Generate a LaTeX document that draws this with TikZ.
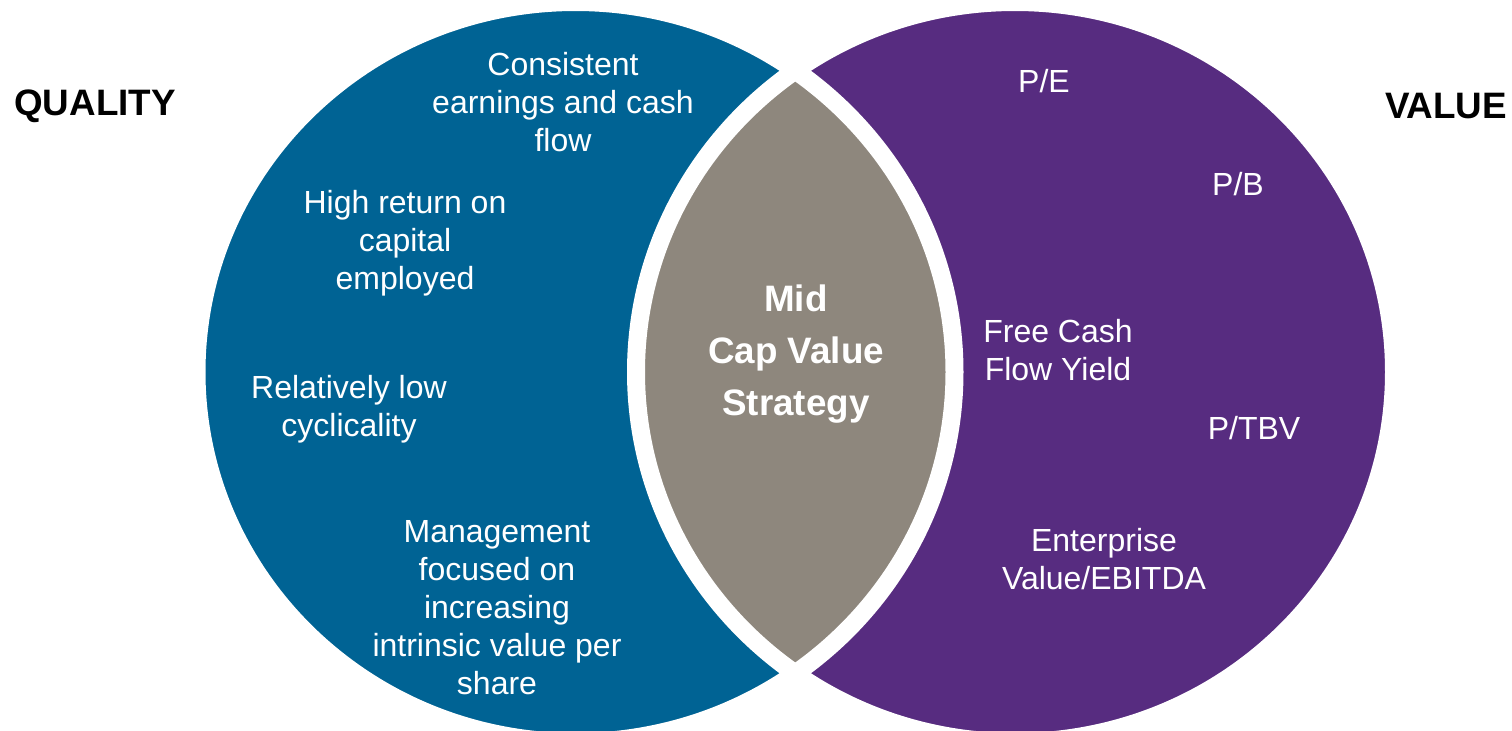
\documentclass[tikz,border=0pt]{standalone}
\usepackage{fontspec}
\setmainfont{Liberation Sans}
\usetikzlibrary{positioning}
\definecolor{qualityblue}{HTML}{006394}
\definecolor{valuepurple}{HTML}{572C80}
\definecolor{coregray}{HTML}{8E877D}
\tikzset{
  heading/.style={font=\fontsize{18.4}{21}\selectfont\bfseries,text=black,inner sep=0pt},
  trait/.style={font=\fontsize{16}{19}\selectfont,text=white,align=center,inner sep=0pt},
  core/.style={font=\fontsize{18.4}{26}\selectfont\bfseries,text=white,align=center,inner sep=0pt},
  gap/.style={draw=white,line width=9pt},
  set/.style={x radius=189.5pt,y radius=185pt},
}

\begin{document}
\begin{tikzpicture}[x=0.5pt,y=-0.5pt]
  \useasboundingbox (0,0) rectangle (1512,730);
  \coordinate (qc) at (575.5,372);
  \coordinate (vc) at (1015,372);

  \fill[qualityblue] (qc) ellipse [set];
  \fill[valuepurple] (vc) ellipse [set];
  \begin{scope}
    \clip (qc) ellipse [set];
    \fill[coregray] (vc) ellipse [set];
  \end{scope}
  \draw[gap] (qc) ellipse [set];
  \draw[gap] (vc) ellipse [set];

  \node[heading] (quality) at (95,106) {QUALITY};
  \node[heading] (value) at (1446,106) {VALUE};

  \node[trait] (earnings) at (563,102) {Consistent\\earnings and cash\\flow};
  \node[trait] (roce) at (405,243) {High return on\\capital\\employed};
  \node[trait] (cyclical) at (349,409) {Relatively low\\cyclicality};
  \node[trait] (mgmt) at (497,608) {Management\\focused on\\increasing\\intrinsic value per\\share};

  \node[trait] (pe) at (1044,81) {P/E};
  \node[trait] (pb) at (1238,184) {P/B};
  \node[trait] (fcf) at (1058,350) {Free Cash\\Flow Yield};
  \node[trait] (ptbv) at (1254,428) {P/TBV};
  \node[trait] (ev) at (1104,559) {Enterprise\\Value/EBITDA};

  \node[core] (strategy) at (796,354) {Mid\\Cap Value\\Strategy};
\end{tikzpicture}
\end{document}
